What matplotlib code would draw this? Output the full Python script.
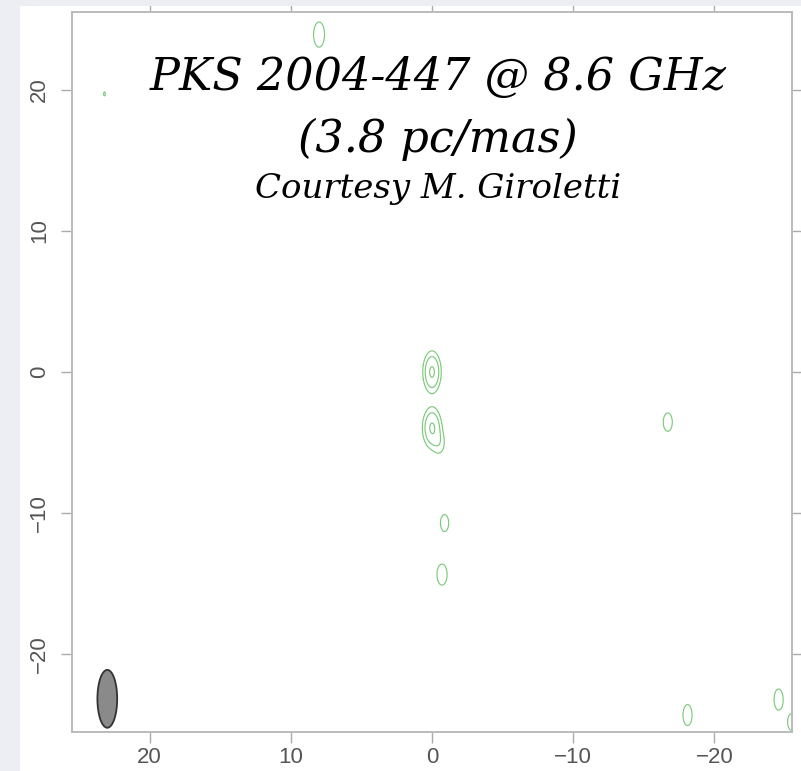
import numpy as np
import matplotlib.pyplot as plt
from matplotlib.patches import Ellipse, Rectangle

# source components: position (mas), peak (in units of lowest contour), gaussian widths (mas)
comp_x = [0.0, 0.0, -0.55, 8.0, 23.2, -16.7, -0.89, -0.71, -18.1, -24.55, -25.5]
comp_y = [0.0, -3.95, -5.1, 23.9, 19.7, -3.55, -10.7, -14.35, -24.3, -23.2, -24.8]
comp_peak = [4.4, 4.3, 1.3, 1.6, 1.05, 1.6, 1.6, 1.6, 1.6, 1.6, 1.6]
comp_sx = [0.38, 0.40, 0.33, 0.40, 0.20, 0.33, 0.30, 0.37, 0.33, 0.33, 0.31]
comp_sy = [0.87, 0.85, 0.65, 0.92, 0.45, 0.67, 0.62, 0.77, 0.77, 0.77, 0.62]
levels = [1, 2, 4]

# restoring beam
beam_x, beam_y = 23.0, -23.15
beam_w, beam_h = 1.4, 4.1

xticks = [20, 10, 0, -10, -20]
yticks = [20, 10, 0, -10, -20]

x = np.linspace(26, -26, 1501)
y = np.linspace(-26, 26, 1501)
X, Y = np.meshgrid(x, y)
Z = np.zeros_like(X)
for cx, cy, a, sx, sy in zip(comp_x, comp_y, comp_peak, comp_sx, comp_sy):
    Z += a * np.exp(-0.5 * (((X - cx) / sx) ** 2 + ((Y - cy) / sy) ** 2))

fig = plt.figure(figsize=(8.01, 7.71), dpi=100, facecolor='white')
# slide border strips on the left and top
bg = '#eceef3'
fig.patches.append(Rectangle((0, 0), 20 / 801, 1, transform=fig.transFigure,
                             facecolor=bg, edgecolor='none', zorder=10))
fig.patches.append(Rectangle((0, 1 - 6 / 771), 1, 6 / 771, transform=fig.transFigure,
                             facecolor=bg, edgecolor='none', zorder=10))

ax = fig.add_axes([72 / 801, 1 - 732 / 771, 720 / 801, 720 / 771])
ax.set_facecolor('white')

ax.contour(X, Y, Z, levels=levels, colors='#7ccb7c', linewidths=0.85)
ax.add_patch(Ellipse((beam_x, beam_y), beam_w, beam_h, facecolor='#8a8a8a',
                     edgecolor='#333333', linewidth=1.3))

ax.set_xlim(25.5, -25.5)
ax.set_ylim(-25.5, 25.5)
ax.set_xticks(xticks)
ax.set_yticks(yticks)
ax.set_xticklabels([str(t).replace('-', '\u2212') for t in xticks])
ax.set_yticklabels([str(t).replace('-', '\u2212') for t in yticks], rotation=90, va='center')
ax.tick_params(direction='out', length=8, width=1, color='#aaaaaa', labelcolor='#555555',
               labelsize=16, top=True, right=True)
ax.tick_params(axis='x', pad=3)
ax.tick_params(axis='y', pad=8)
for lab in ax.get_xticklabels() + ax.get_yticklabels():
    lab.set_family('Liberation Sans')
for s in ax.spines.values():
    s.set_color('#bbbbbb')
    s.set_linewidth(1.4)

tfont = dict(family='DejaVu Serif', style='italic', color='black',
             ha='center', va='baseline', transform=ax.transAxes)
ax.text(0.508, 0.891, 'PKS 2004-447 @ 8.6 GHz', fontsize=32, **tfont)
ax.text(0.508, 0.805, '(3.8 pc/mas)', fontsize=32, **tfont)
ax.text(0.508, 0.742, 'Courtesy M. Giroletti', fontsize=24.5, **tfont)

fig.savefig('out.png', dpi=100, facecolor=fig.get_facecolor())
